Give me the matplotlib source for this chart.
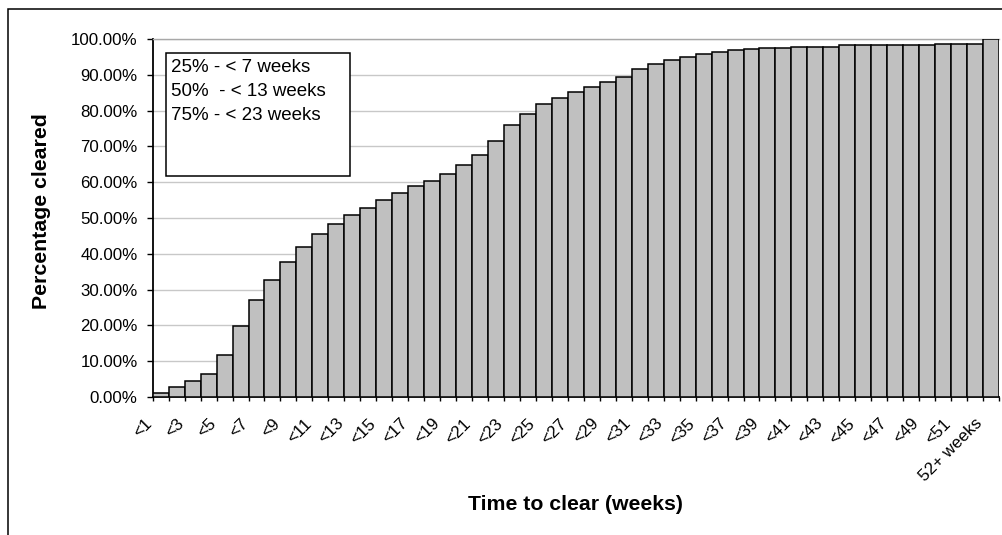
import numpy as np
import matplotlib
matplotlib.use("Agg")
import matplotlib.pyplot as plt
import matplotlib.transforms as mtransforms
from matplotlib.patches import Rectangle

plt.rcParams['font.family'] = ['Liberation Sans', 'DejaVu Sans']

categories = ['<%d' % i for i in range(1, 53)] + ['52+ weeks']
pct_cleared = [1.2, 2.8, 4.4, 6.4, 11.6, 19.9, 27.2, 32.8, 37.6, 41.9,
               45.6, 48.4, 50.7, 52.7, 55.1, 57.1, 58.8, 60.3, 62.3, 64.7,
               67.5, 71.5, 75.9, 79.1, 81.9, 83.5, 85.1, 86.7, 87.9, 89.5,
               91.5, 93.0, 94.2, 95.1, 95.8, 96.3, 96.8, 97.1, 97.5, 97.5,
               97.9, 97.9, 97.9, 98.2, 98.2, 98.2, 98.2, 98.2, 98.2, 98.6,
               98.6, 98.6, 100.0]
box_lines = ['25% - < 7 weeks', '50%  - < 13 weeks', '75% - < 23 weeks']
y_ticks = [0, 10, 20, 30, 40, 50, 60, 70, 80, 90, 100]

W, H = 1003, 535
fig = plt.figure(figsize=(W / 100, H / 100), dpi=100)
ax = fig.add_axes([152.7 / W, (H - 397) / H, (999 - 152.7) / W, (397 - 39) / H])

x = np.arange(len(categories))
vals = np.array(pct_cleared) / 100.0
ax.bar(x, vals, width=1.0, color='#C0C0C0', edgecolor='black', linewidth=1.1, zorder=3)

ax.set_xlim(-0.5, len(categories) - 0.5)
ax.set_ylim(0, 1.0)

# y axis
ax.set_yticks([v / 100 for v in y_ticks])
ax.set_yticklabels(['%.2f%%' % v for v in y_ticks], fontsize=12.2)
ax.tick_params(axis='y', direction='out', length=4.3, width=1, pad=6.5, colors='black')
ax.yaxis.grid(True, color='#C8C8C8', linewidth=1.0, zorder=0)
ax.set_axisbelow(True)

# x axis: ticks at bar boundaries, labels at every other bar centre
ax.set_xticks(np.arange(-0.5, len(categories), 1.0))
ax.set_xticklabels([])
ax.tick_params(axis='x', which='major', direction='out', length=3, width=1)
ax.set_xticks(x[::2], minor=True)
ax.set_xticklabels(categories[::2], minor=True, rotation=45, ha='right', va='top', fontsize=12.2)
ax.tick_params(axis='x', which='minor', length=0, pad=13.5)
offset = mtransforms.ScaledTranslation(-6 / 100, 0, fig.dpi_scale_trans)
for lab in ax.xaxis.get_minorticklabels():
    lab.set_transform(lab.get_transform() + offset)

for s in ['left', 'bottom']:
    ax.spines[s].set_linewidth(1.3)
    ax.spines[s].set_color('black')
ax.spines['right'].set_visible(False)
ax.spines['top'].set_color('#A8A8A8')
ax.spines['top'].set_linewidth(1.0)

ax.set_ylabel('Percentage cleared', fontsize=15.3, fontweight='bold', va='center')
ax.yaxis.set_label_coords((42 - 152.7) / (999 - 152.7), (397 - 211) / 358)
ax.set_xlabel('Time to clear (weeks)', fontsize=15.3, fontweight='bold', va='center')
ax.xaxis.set_label_coords(0.5, (397 - 505) / 358)

# annotation box
ax_w = 999 - 152.7
ax_h = 358
bx0 = (166 - 152.7) / ax_w
bx1 = (350 - 152.7) / ax_w
by0 = (397 - 176) / ax_h
by1 = (397 - 52.7) / ax_h
ax.add_patch(Rectangle((bx0, by0), bx1 - bx0, by1 - by0, transform=ax.transAxes,
                       facecolor='white', edgecolor='black', linewidth=1.1, zorder=5))
for i, line in enumerate(box_lines):
    yb = 71.7 + 24.2 * i
    ax.text((171.3 - 152.7) / ax_w, (397 - yb) / ax_h, line, transform=ax.transAxes,
            fontsize=13.5, ha='left', va='baseline', zorder=6)

# figure border
fig.patches.append(Rectangle((8.3 / W, -0.1), 1.2, 1.1 - 9 / H, transform=fig.transFigure,
                             facecolor='none', edgecolor='black', linewidth=1.1))

fig.savefig('out.png', dpi=100)
